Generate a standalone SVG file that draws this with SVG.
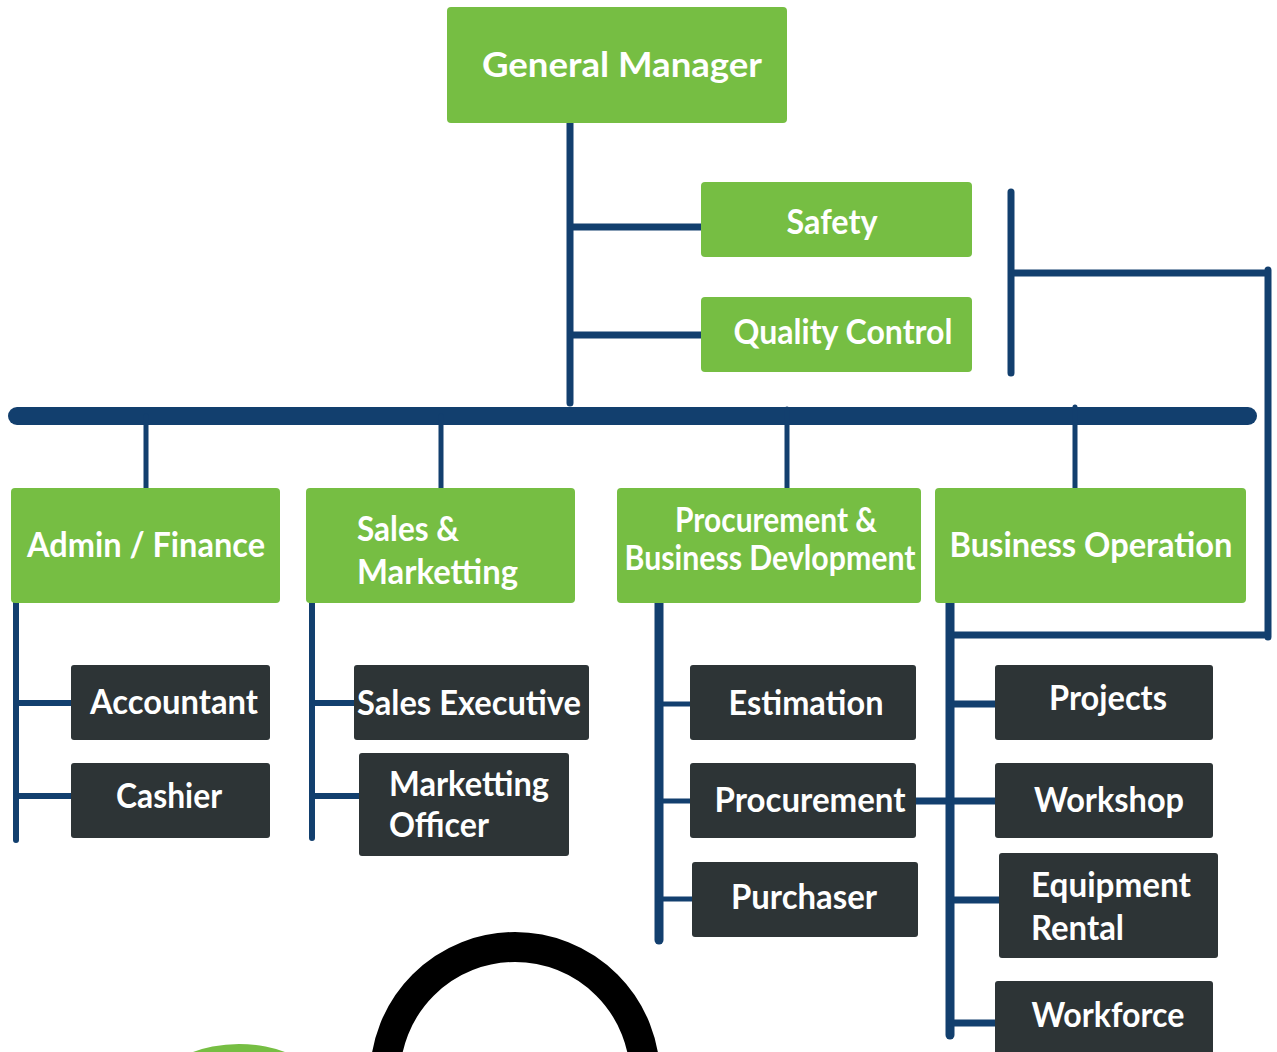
<svg xmlns="http://www.w3.org/2000/svg" width="1277" height="1052" viewBox="0 0 1277 1052">
<style>
.g{fill:#76BE43}
.d{fill:#2D3436}
.t{fill:#fff;font-family:Lato,"Open Sans","Liberation Sans",sans-serif;font-weight:700;font-size:34px}
.c{fill:none;stroke:#123F6E;stroke-linecap:round}
</style>
<rect width="1277" height="1052" fill="#fff"/>
<g id="connectors">
<path class="c" stroke-width="7" d="M570 123V403M570 227H701M570 335H701"/>
<path class="c" stroke-width="7" d="M1011 192V373M1011 273H1266M1268 270V637M952 635H1268"/>
<path class="c" stroke-width="18" d="M17 416H1248"/>
<path class="c" stroke-width="5" d="M146 416V488M441 416V488M787 409V488M1075 407V488"/>
<path class="c" stroke-width="6" d="M16 603V840M16 703H71M16 796H71"/>
<path class="c" stroke-width="6" d="M312 603V838M312 703H354M312 796H359"/>
<path class="c" stroke-width="9" d="M659 603V940"/>
<path class="c" stroke-width="5" d="M659 704H690M659 801H690M659 899H692"/>
<path class="c" stroke-width="7" d="M916 801H950"/>
<path class="c" stroke-width="9" d="M950 603V1035"/>
<path class="c" stroke-width="7" d="M950 704H995M950 801H995M950 900H999M950 1023H995"/>
</g>
<g id="gm"><rect class="g" x="447" y="7" width="340" height="116" rx="4"/><text class="t" x="622" y="77" font-size="38" text-anchor="middle" textLength="280" lengthAdjust="spacingAndGlyphs">General Manager</text></g>
<g id="safety"><rect class="g" x="701" y="182" width="271" height="75" rx="4"/><text class="t" x="832" y="234" text-anchor="middle" textLength="91" lengthAdjust="spacingAndGlyphs">Safety</text></g>
<g id="qc"><rect class="g" x="701" y="297" width="271" height="75" rx="4"/><text class="t" x="843" y="344" text-anchor="middle" textLength="219" lengthAdjust="spacingAndGlyphs">Quality Control</text></g>
<g id="admin"><rect class="g" x="11" y="488" width="269" height="115" rx="4"/><text class="t" x="146" y="557" text-anchor="middle" textLength="238" lengthAdjust="spacingAndGlyphs">Admin / Finance</text></g>
<g id="sales"><rect class="g" x="306" y="488" width="269" height="115" rx="4"/><text class="t" x="357" y="541" textLength="102" lengthAdjust="spacingAndGlyphs">Sales &amp;</text><text class="t" x="357" y="584" textLength="161" lengthAdjust="spacingAndGlyphs">Marketting</text></g>
<g id="procbd"><rect class="g" x="617" y="488" width="304" height="115" rx="4"/><text class="t" x="776" y="532" font-size="31" text-anchor="middle" textLength="202" lengthAdjust="spacingAndGlyphs">Procurement &amp;</text><text class="t" x="770" y="570" font-size="31" text-anchor="middle" textLength="291" lengthAdjust="spacingAndGlyphs">Business Devlopment</text></g>
<g id="bizop"><rect class="g" x="935" y="488" width="311" height="115" rx="4"/><text class="t" x="1091" y="557" text-anchor="middle" textLength="283" lengthAdjust="spacingAndGlyphs">Business Operation</text></g>
<g id="accountant"><rect class="d" x="71" y="665" width="199" height="75" rx="3"/><text class="t" x="174" y="714" text-anchor="middle" textLength="168" lengthAdjust="spacingAndGlyphs">Accountant</text></g>
<g id="cashier"><rect class="d" x="71" y="763" width="199" height="75" rx="3"/><text class="t" x="169" y="808" text-anchor="middle" textLength="106" lengthAdjust="spacingAndGlyphs">Cashier</text></g>
<g id="salesexec"><rect class="d" x="354" y="665" width="235" height="75" rx="3"/><text class="t" x="469" y="715" text-anchor="middle" textLength="224" lengthAdjust="spacingAndGlyphs">Sales Executive</text></g>
<g id="mktofficer"><rect class="d" x="359" y="753" width="210" height="103" rx="3"/><text class="t" x="389" y="796" textLength="160" lengthAdjust="spacingAndGlyphs">Marketting</text><text class="t" x="389" y="837" textLength="100" lengthAdjust="spacingAndGlyphs">Officer</text></g>
<g id="estimation"><rect class="d" x="690" y="665" width="226" height="75" rx="3"/><text class="t" x="806" y="715" text-anchor="middle" textLength="155" lengthAdjust="spacingAndGlyphs">Estimation</text></g>
<g id="procurement"><rect class="d" x="690" y="763" width="226" height="75" rx="3"/><text class="t" x="810" y="812" text-anchor="middle" textLength="191" lengthAdjust="spacingAndGlyphs">Procurement</text></g>
<g id="purchaser"><rect class="d" x="692" y="862" width="226" height="75" rx="3"/><text class="t" x="804" y="909" text-anchor="middle" textLength="146" lengthAdjust="spacingAndGlyphs">Purchaser</text></g>
<g id="projects"><rect class="d" x="995" y="665" width="218" height="75" rx="3"/><text class="t" x="1108" y="710" text-anchor="middle" textLength="118" lengthAdjust="spacingAndGlyphs">Projects</text></g>
<g id="workshop"><rect class="d" x="995" y="763" width="218" height="75" rx="3"/><text class="t" x="1109" y="812" text-anchor="middle" textLength="150" lengthAdjust="spacingAndGlyphs">Workshop</text></g>
<g id="equipment"><rect class="d" x="999" y="853" width="219" height="105" rx="3"/><text class="t" x="1031" y="897" textLength="160" lengthAdjust="spacingAndGlyphs">Equipment</text><text class="t" x="1031" y="940" textLength="93" lengthAdjust="spacingAndGlyphs">Rental</text></g>
<g id="workforce"><rect class="d" x="995" y="981" width="218" height="90" rx="3"/><text class="t" x="1108" y="1027" text-anchor="middle" textLength="153" lengthAdjust="spacingAndGlyphs">Workforce</text></g>
<circle cx="515" cy="1077" r="130" fill="none" stroke="#000" stroke-width="30"/>
<circle cx="239" cy="1180" r="136" fill="#76BE43"/>
</svg>
